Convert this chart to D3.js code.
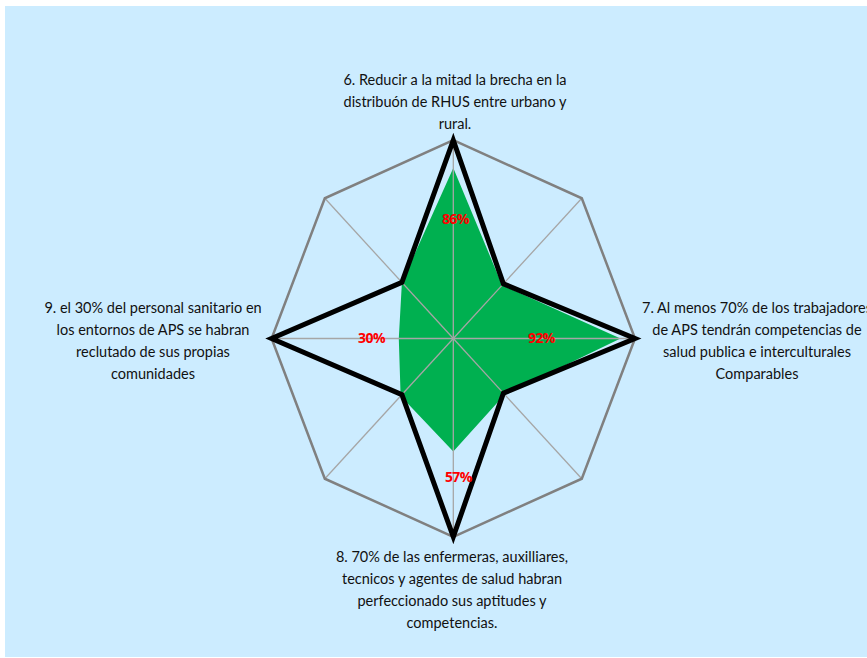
<!DOCTYPE html>
<html><head><meta charset="utf-8">
<script src="https://cdn.jsdelivr.net/npm/d3@7"></script>
<style>html,body{margin:0;padding:0;background:#fff;overflow:hidden}</style>
</head><body>
<svg id="chart" width="867" height="658"></svg>
<script>
// ---- data ----
const categories = [
  ["6. Reducir a la mitad la brecha en la", "distribuón de RHUS entre urbano y", "rural."],
  [],
  ["7. Al menos 70% de los trabajadores", "de APS tendrán competencias de", "salud publica e interculturales", "Comparables"],
  [],
  ["8. 70% de las enfermeras, auxilliares,", "tecnicos y agentes de salud habran", "perfeccionado sus aptitudes y", "competencias."],
  [],
  ["9. el 30% del personal sanitario en", "los entornos de APS se habran", "reclutado de sus propias", "comunidades"],
  []
];
const achieved = [0.86, 0.38, 0.92, 0.40, 0.57, 0.41, 0.30, 0.40];
const target   = [1.00, 0.39, 1.00, 0.39, 1.00, 0.40, 1.00, 0.40];
const valueLabels = ["86%", "", "92%", "", "57%", "", "30%", ""];

// ---- layout ----
const cx = 453.3, cy = 338.5;
const rX = d3.scaleLinear().domain([0, 1]).range([0, 181.7]);
const rY = d3.scaleLinear().domain([0, 1]).range([0, 198.3]);
const angle = d3.scaleLinear().domain([0, categories.length]).range([0, 2 * Math.PI]);
const px = (i, v) => cx + rX(v) * Math.sin(angle(i));
const py = (i, v) => cy - rY(v) * Math.cos(angle(i));

const svg = d3.select("#chart");
svg.append("rect").attr("x", 5).attr("y", 6).attr("width", 870).attr("height", 651).attr("fill", "#CCECFF");

const g = svg.append("g");
const idx = d3.range(categories.length);
const closed = d3.line().curve(d3.curveLinearClosed);

// green area
g.append("path")
  .attr("d", closed(achieved.map((v, i) => [px(i, v), py(i, v)])))
  .attr("fill", "#00B050");

// spokes
g.selectAll("line.spoke").data(idx).join("line")
  .attr("x1", cx).attr("y1", cy)
  .attr("x2", i => px(i, 1)).attr("y2", i => py(i, 1))
  .attr("stroke", "#a6a6a6").attr("stroke-width", 1.3);

// outer ring
g.append("path")
  .attr("d", closed(idx.map(i => [px(i, 1), py(i, 1)])))
  .attr("fill", "none").attr("stroke", "#808080").attr("stroke-width", 2.5);

// target line
g.append("path")
  .attr("d", closed(target.map((v, i) => [px(i, v), py(i, v)])))
  .attr("fill", "none").attr("stroke", "#000").attr("stroke-width", 5)
  .attr("stroke-linejoin", "miter");

// value labels
const labelPos = [0.60, 0, 0.485, 0, 0.70, 0, 0.45, 0];
g.selectAll("text.val").data(idx.filter(i => valueLabels[i])).join("text")
  .attr("x", i => px(i, labelPos[i]) + (i === 0 ? 2 : i === 4 ? 5 : 0))
  .attr("y", i => py(i, labelPos[i]))
  .attr("dy", "0.35em")
  .attr("text-anchor", "middle")
  .attr("font-family", "'Open Sans', Lato, sans-serif")
  .attr("font-weight", "bold").attr("font-size", 14).attr("letter-spacing", -0.6)
  .attr("fill", "#FF0000")
  .text(i => valueLabels[i]);

// category labels
const catAnchor = {0: [455, 80], 2: [757, 308], 4: [452, 557], 6: [153, 308]};
Object.keys(catAnchor).forEach(k => {
  const [x, y] = catAnchor[k];
  const t = g.append("text")
    .attr("text-anchor", "middle")
    .attr("font-family", "Lato, 'Open Sans', sans-serif")
    .attr("font-size", 14.5).attr("fill", "#111");
  categories[k].forEach((line, j) => {
    t.append("tspan").attr("x", x).attr("y", y + j * 22).attr("dy", "0.35em").text(line);
  });
});
</script>
</body></html>
